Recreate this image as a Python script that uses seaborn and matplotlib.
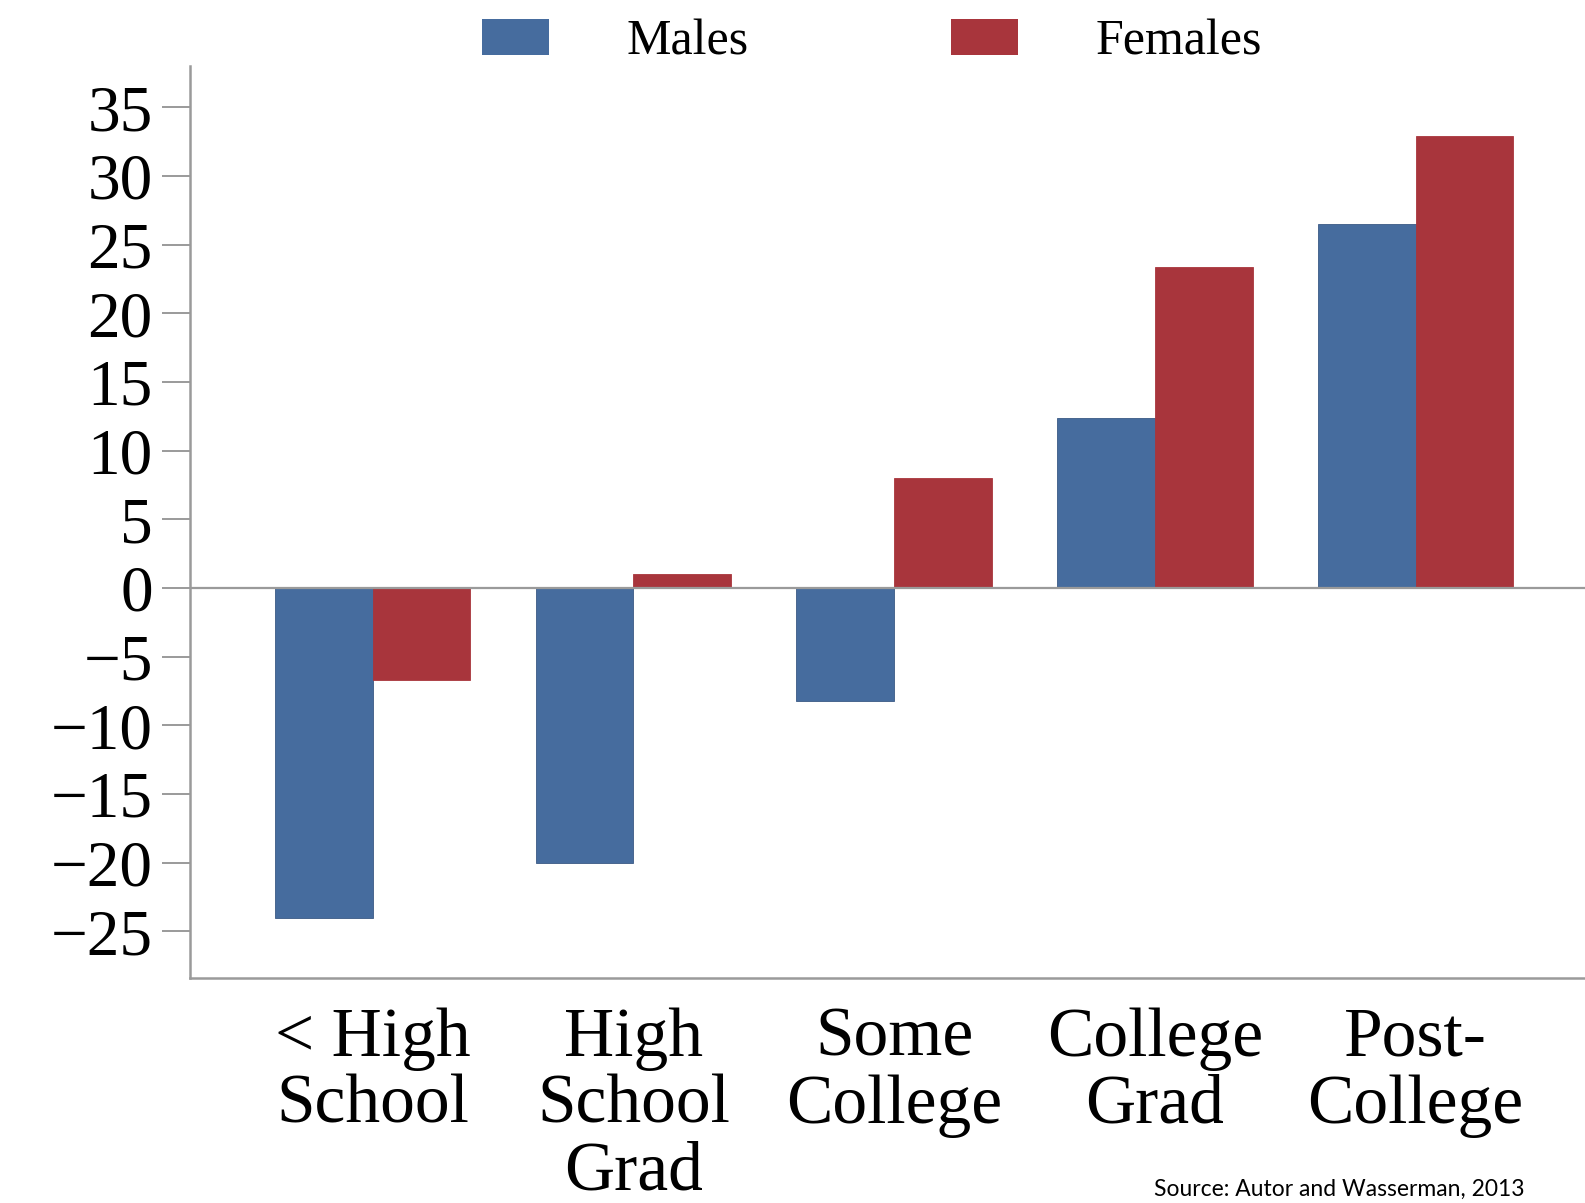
import pandas as pd
import matplotlib.pyplot as plt
import seaborn as sns

# data
categories = ["< High\nSchool", "High\nSchool\nGrad", "Some\nCollege", "College\nGrad", "Post-\nCollege"]
males = [-24.0, -20.0, -8.2, 12.4, 26.5]
females = [-6.7, 1.0, 8.0, 23.4, 32.9]
series = ["Males", "Females"]
colors = ["#466c9e", "#a8353c"]
yticks = [-25, -20, -15, -10, -5, 0, 5, 10, 15, 20, 25, 30, 35]

df = pd.DataFrame({
    "category": categories * 2,
    "sex": ["Males"] * len(categories) + ["Females"] * len(categories),
    "value": males + females,
})

sns.set_theme(style="white")
plt.rcParams['font.family'] = ['Liberation Serif', 'DejaVu Serif']
plt.rcParams['text.color'] = "black"
plt.rcParams['xtick.color'] = "black"
plt.rcParams['ytick.color'] = "black"

fig = plt.figure(figsize=(15.85, 12.03), dpi=100)
ax = fig.add_axes([0.120, 0.187, 0.880, 0.758])

sns.barplot(data=df, x="category", y="value", hue="sex", hue_order=series,
            palette=colors, width=0.75, saturation=1, ax=ax,
            edgecolor="#3a5a85", linewidth=0.6, legend=False)

# edge colours per series
for patch in ax.patches:
    fc = patch.get_facecolor()
    if fc[0] > 0.5:
        patch.set_edgecolor("#a8353c")

gray = "#9a9a9a"
ax.axhline(0, color=gray, lw=1.6, zorder=3)
ax.set_xlim(-0.70, 4.65)
ax.set_ylim(-28.4, 38.0)
ax.set_yticks(yticks)
ax.set_yticklabels([f"{t}".replace("-", "\u2212") for t in yticks], fontsize=47)
ax.tick_params(axis="y", direction="out", length=20, width=1.4, color=gray,
               labelcolor="black", pad=7, left=True)
ax.tick_params(axis="x", length=0, pad=21, labelsize=50, labelcolor="black")
for lab in ax.get_xticklabels():
    lab.set_linespacing(1.07)
ax.set_xlabel("")
ax.set_ylabel("")
for s in ["top", "right"]:
    ax.spines[s].set_visible(False)
for s in ["left", "bottom"]:
    ax.spines[s].set_color(gray)
    ax.spines[s].set_linewidth(1.8)

handles = [plt.Rectangle((0, 0), 1, 1, facecolor=c, edgecolor="none") for c in colors]
fig.legend(handles, series, loc="center", bbox_to_anchor=(0.55, 0.965), ncol=2,
           frameon=False, fontsize=36, handlelength=1.34, handleheight=0.72,
           handletextpad=1.54, columnspacing=4.06, borderaxespad=0)

fig.text(0.962, 0.003, "Source: Autor and Wasserman, 2013", ha="right", va="bottom",
         fontsize=16.5, family=["Lato", "DejaVu Sans"], color="black")

fig.savefig("out.png", dpi=100)
